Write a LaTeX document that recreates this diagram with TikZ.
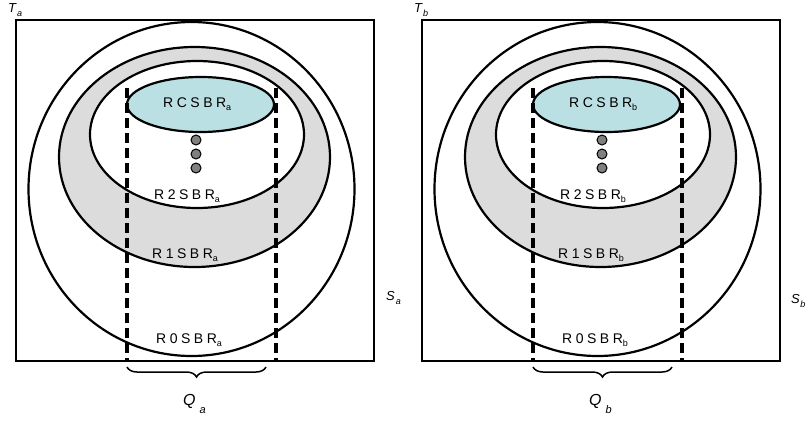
\documentclass[tikz,border=0pt]{standalone}
\usepackage{fontspec}
\setmainfont{Liberation Sans}
\newfontfamily\labfont[LetterSpace=25]{Liberation Sans}
\usetikzlibrary{shapes.geometric,decorations.pathreplacing}
\definecolor{cyanfill}{RGB}{186,224,228}
\definecolor{bandgray}{RGB}{220,220,220}
\definecolor{dotgray}{RGB}{128,128,128}
\tikzset{
  frame/.style={draw, line width=1.6pt},
  ring/.style={ellipse, draw, line width=2.2pt, inner sep=0pt},
  dotnode/.style={circle, draw, line width=1pt, fill=dotgray, minimum size=10pt, inner sep=0pt},
  dashline/.style={line width=3.2pt, dash pattern=on 10pt off 5pt},
  lab/.style={anchor=base west, inner sep=0pt},
  bracestyle/.style={line width=1.5pt, decorate, decoration={brace, mirror, amplitude=10pt}}
}
\newcommand{\ringlab}[2]{{\fontsize{14}{14}\selectfont\labfont #1}\raisebox{-3pt}{\fontsize{9}{9}\selectfont #2}}
\begin{document}
\begin{tikzpicture}[x=1pt,y=-1pt]
\useasboundingbox (0,0) rectangle (806,421);
\foreach \dx/\s in {0/a,406/b}{
  \coordinate (sq1\s) at (16+\dx,20);
  \coordinate (sq2\s) at (374+\dx,361);
  \draw[frame] (sq1\s) rectangle (sq2\s);
  \node[ring, fill=white, minimum width=326pt, minimum height=334pt] (r0\s) at (191.5+\dx,189) {};
  \node[ring, fill=bandgray, minimum width=271pt, minimum height=220pt] (r1\s) at (194.5+\dx,157) {};
  \node[ring, fill=white, minimum width=214pt, minimum height=147pt] (r2\s) at (197+\dx,134.5) {};
  \node[ring, fill=cyanfill, minimum width=147pt, minimum height=55pt] (rc\s) at (200.5+\dx,104.5) {};
  \node[dotnode] (d1\s) at (196+\dx,140) {};
  \node[dotnode] (d2\s) at (196+\dx,154) {};
  \node[dotnode] (d3\s) at (196+\dx,168) {};
  \node[lab] (lc\s) at (163+\dx,107) {\ringlab{RCSBR}{\s}};
  \node[lab] (l2\s) at (154+\dx,199) {\ringlab{R2SBR}{\s}};
  \node[lab] (l1\s) at (152+\dx,258) {\ringlab{R1SBR}{\s}};
  \node[lab] (l0\s) at (156+\dx,343) {\ringlab{R0SBR}{\s}};
  \coordinate (qt1\s) at (127+\dx,88);
  \coordinate (qb1\s) at (127+\dx,361);
  \coordinate (qt2\s) at (276+\dx,88);
  \coordinate (qb2\s) at (276+\dx,361);
  \draw[dashline] (qt1\s) -- (qb1\s);
  \draw[dashline] (qt2\s) -- (qb2\s);
  \coordinate (br1\s) at (127+\dx,367);
  \coordinate (br2\s) at (266+\dx,367);
  \draw[bracestyle] (br1\s) -- (br2\s);
  \node[lab] (q\s) at (183+\dx,405) {\fontsize{16}{16}\selectfont\itshape Q\kern4pt\raisebox{-8pt}{\fontsize{11}{11}\selectfont \s}};
  \node[lab] (t\s) at (8+\dx,12) {\fontsize{13}{13}\selectfont\itshape T\kern1pt\raisebox{-4pt}{\fontsize{9}{9}\selectfont \s}};
}
\node[lab] (sa) at (386,300) {\fontsize{13}{13}\selectfont\itshape S\kern1pt\raisebox{-4pt}{\fontsize{9}{9}\selectfont a}};
\node[lab] (sb) at (791,303) {\fontsize{13}{13}\selectfont\itshape S\kern0.5pt\raisebox{-4pt}{\fontsize{9}{9}\selectfont b}};
\end{tikzpicture}
\end{document}
